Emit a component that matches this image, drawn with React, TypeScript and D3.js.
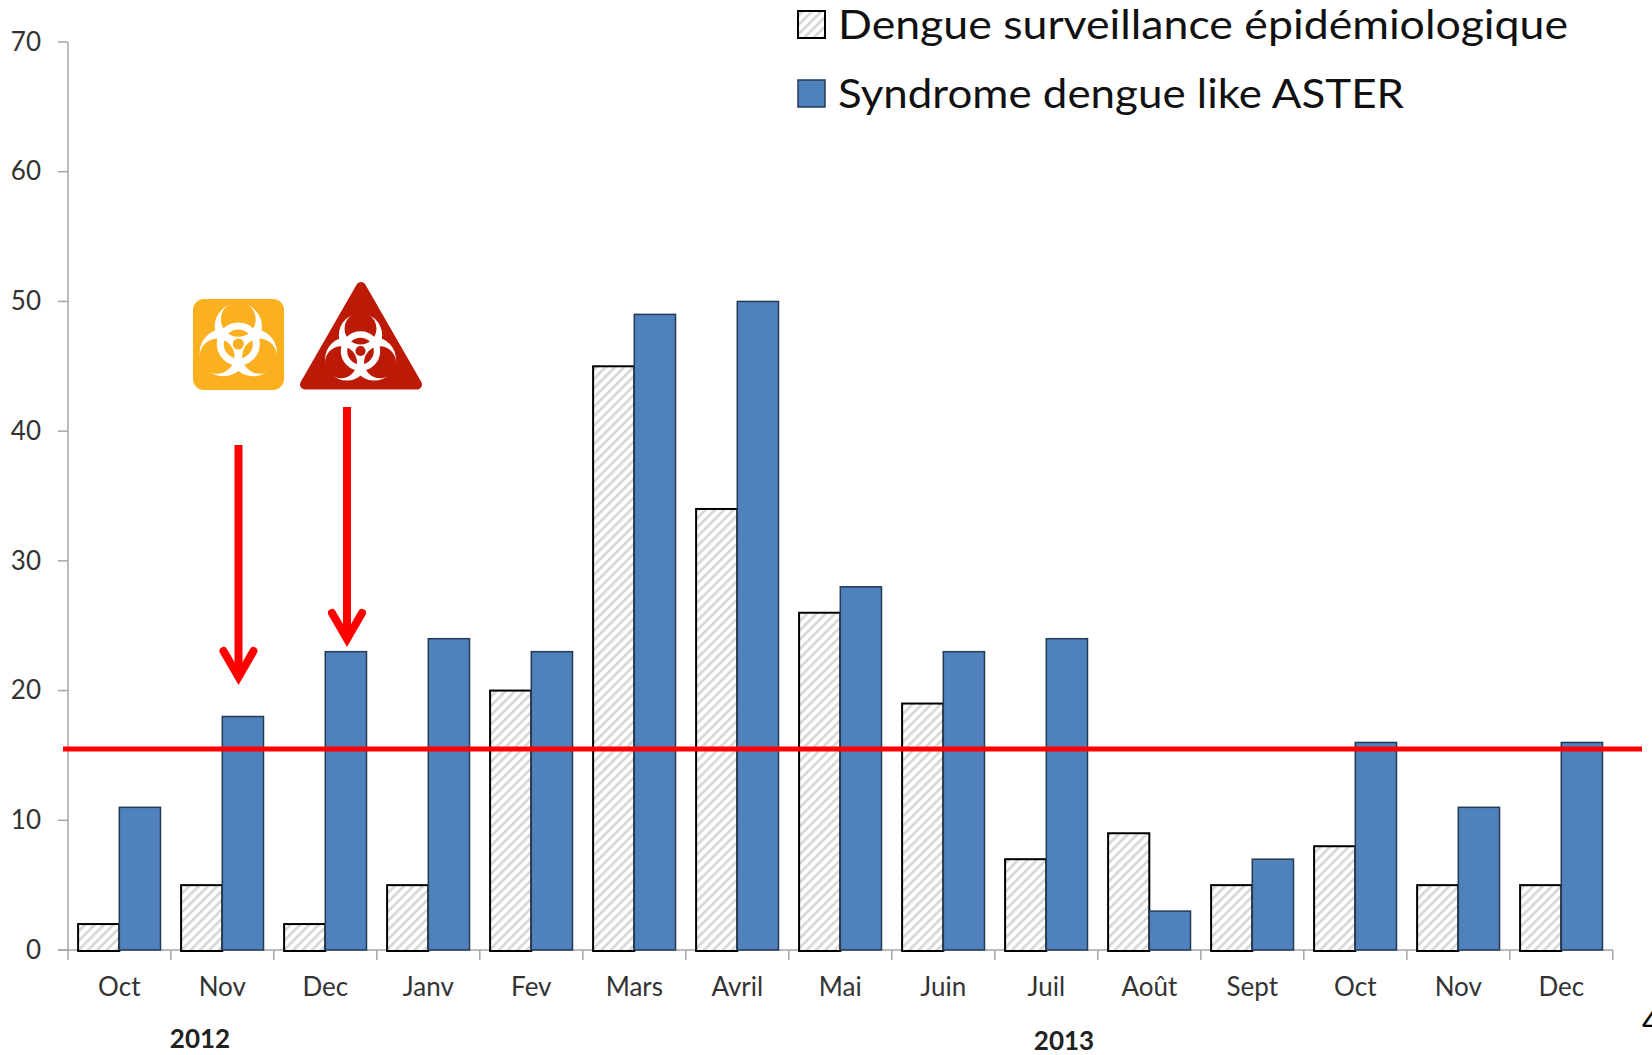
import React from "react";
import * as d3 from "d3";

const months = ["Oct","Nov","Dec","Janv","Fev","Mars","Avril","Mai","Juin","Juil","Août","Sept","Oct","Nov","Dec"];
const surveillance = [2,5,2,5,20,45,34,26,19,7,9,5,8,5,5];
const aster = [11,18,23,24,23,49,50,28,23,24,3,7,16,11,16];
const yTicks = [0,10,20,30,40,50,60,70];
const threshold = 15.5;
const seriesNames = ["Dengue surveillance épidémiologique","Syndrome dengue like ASTER"];
const years = [{label:"2012",x:200,y:1048},{label:"2013",x:1064,y:1050}];

const FONT = "Lato, Carlito, sans-serif";
const x = d3.scaleBand<number>().domain(d3.range(months.length)).range([67.8,1612.8]);
const y = d3.scaleLinear().domain([0,70]).range([950,42]);
const barW = 41.2;

function Biohazard({id,cx,cy,r}:{id:string;cx:number;cy:number;r:number}) {
  const angles=[-90,30,150];
  const p=(d:number,a:number)=>[d*Math.cos(a*Math.PI/180),d*Math.sin(a*Math.PI/180)];
  return (
    <g transform={`translate(${cx},${cy}) scale(${r})`}>
      <defs>
        <mask id={id} maskUnits="userSpaceOnUse" x={-1.2} y={-1.2} width={2.4} height={2.4}>
          <rect x={-1.2} y={-1.2} width={2.4} height={2.4} fill="#000"/>
          {angles.map(a=>{const[c,s]=p(.423,a);return <circle key={a} cx={c} cy={s} r={.577} fill="#fff"/>;})}
          {angles.map(a=>{const[c,s]=p(.6,a);return <circle key={a} cx={c} cy={s} r={.425} fill="#000"/>;})}
          <circle r={.44} fill="none" stroke="#fff" strokeWidth={.17}/>
          <circle r={.135} fill="#000"/>
        </mask>
      </defs>
      <rect x={-1.2} y={-1.2} width={2.4} height={2.4} fill="#fff" mask={`url(#${id})`}/>
    </g>
  );
}

function Arrow({x0,y0,y1}:{x0:number;y0:number;y1:number}) {
  return (
    <g stroke="#ff0000" strokeWidth={8} fill="none">
      <line x1={x0} x2={x0} y1={y0} y2={y1-6}/>
      <path d={`M${x0-15},${y1-33}L${x0},${y1-7}L${x0+15},${y1-33}`} strokeLinecap="round"/>
    </g>
  );
}

export default function App() {
  return (
    <svg width={1652} height={1055} style={{position:"absolute",left:0,top:0,display:"block",background:"#fff"}} fontFamily={FONT}>
      <defs>
        <pattern id="hatch" width={6.6} height={8} patternUnits="userSpaceOnUse" patternTransform="rotate(45)">
          <rect width={6.6} height={8} fill="#fff"/>
          <rect width={2.8} height={8} fill="#d9d9d9"/>
        </pattern>
      </defs>

      {/* axes */}
      <line x1={68} x2={68} y1={y(70)} y2={960} stroke="#a6a6a6" strokeWidth={1.5}/>
      {yTicks.map(t=>(
        <g key={t}>
          <line x1={58} x2={68} y1={y(t)} y2={y(t)} stroke="#a6a6a6" strokeWidth={1.5}/>
          <text x={41} y={y(t)+8.7} textAnchor="end" fontSize={26} fill="#333">{t}</text>
        </g>
      ))}
      <line x1={58} x2={1613} y1={950} y2={950} stroke="#a6a6a6" strokeWidth={1.5}/>
      {months.map((_,i)=>(
        <line key={i} x1={x(i)!+x.bandwidth()} x2={x(i)!+x.bandwidth()} y1={950} y2={960} stroke="#a6a6a6" strokeWidth={1.5}/>
      ))}

      {/* bars */}
      {months.map((m,i)=>{
        const c=x(i)!+x.bandwidth()/2;
        return (
          <g key={i}>
            <rect x={c-barW} width={barW} y={y(surveillance[i])} height={950-y(surveillance[i])+1} fill="url(#hatch)" stroke="#000" strokeWidth={2}/>
            <rect x={c} width={barW} y={y(aster[i])} height={950-y(aster[i])} fill="#4f81bd" stroke="#243a55" strokeWidth={1.5}/>
            <text x={c} y={996} textAnchor="middle" fontSize={26} fill="#333">{m}</text>
          </g>
        );
      })}

      {/* threshold */}
      <line x1={63} x2={1642} y1={y(threshold)} y2={y(threshold)} stroke="#ff0000" strokeWidth={5}/>

      {years.map(v=>(
        <text key={v.label} x={v.x} y={v.y} textAnchor="middle" fontSize={26} fontWeight={700} fill="#222">{v.label}</text>
      ))}

      {/* legend */}
      <rect x={798} y={11} width={27} height={27} fill="url(#hatch)" stroke="#000" strokeWidth={2}/>
      <rect x={798} y={80} width={27} height={27} fill="#4f81bd" stroke="#243a55" strokeWidth={1.5}/>
      <text x={838} y={38.5} fontSize={41} fill="#111" textLength={730} lengthAdjust="spacingAndGlyphs">{seriesNames[0]}</text>
      <text x={838} y={107.5} fontSize={41} fill="#111" textLength={566} lengthAdjust="spacingAndGlyphs">{seriesNames[1]}</text>

      {/* icons */}
      <rect x={193} y={299} width={91} height={91} rx={11} fill="#fbb01f"/>
      <Biohazard id="bioA" cx={238.3} cy={344} r={41}/>
      <path d="M361,287L417,384.5H305Z" fill="#bc1a06" stroke="#bc1a06" strokeWidth={10} strokeLinejoin="round"/>
      <Biohazard id="bioB" cx={360.5} cy={351} r={37.5}/>

      <Arrow x0={238.5} y0={445} y1={684}/>
      <Arrow x0={347} y0={407} y1={646}/>

      <text x={1642} y={1033} fontSize={32} fill="#000">4</text>
    </svg>
  );
}
